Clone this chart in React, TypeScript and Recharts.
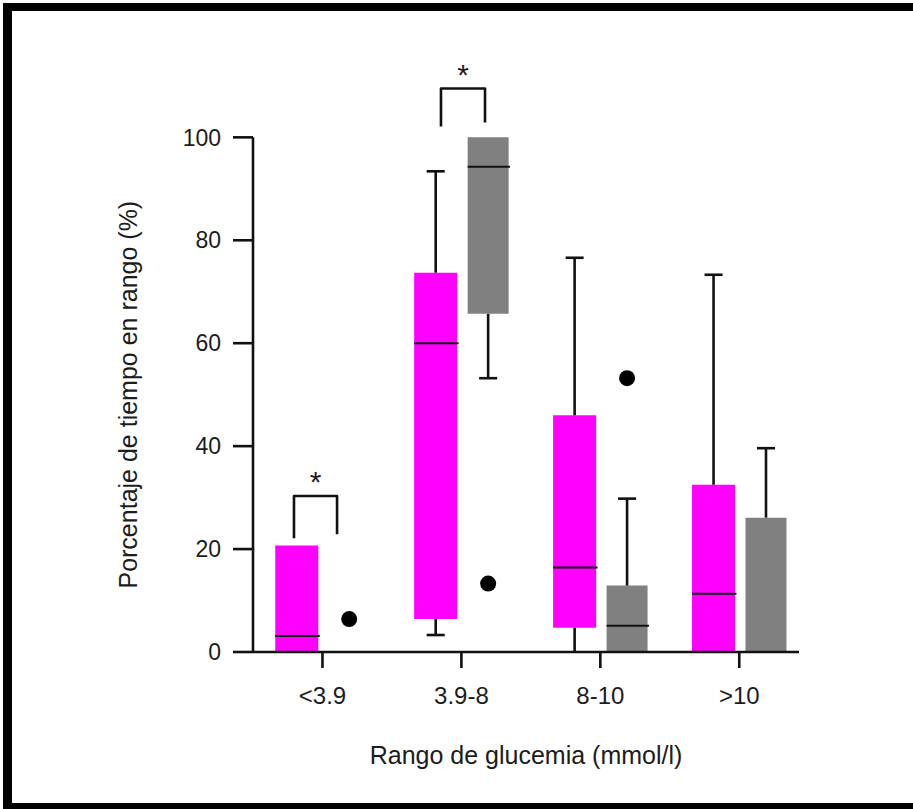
import {
  ComposedChart,
  ReferenceArea,
  ReferenceLine,
  Scatter,
  XAxis,
  YAxis,
} from "recharts";

const categories = ["<3.9", "3.9-8", "8-10", ">10"];

// magenta group (box stats, % of time)
const magMin = [0, 3.3, 0, 0];
const magQ1 = [0, 6.4, 4.7, 0];
const magMedian = [3.1, 60, 16.4, 11.3];
const magQ3 = [20.7, 73.7, 46, 32.5];
const magMax = [20.7, 93.4, 76.6, 73.3];

// gray group
const grayMin = [0, 53.2, 0, 0];
const grayQ1 = [0, 65.7, 0, 0];
const grayMedian = [0, 94.3, 5.1, 0];
const grayQ3 = [0, 100, 12.9, 26.1];
const grayMax = [0, 100, 29.8, 39.6];

// outliers (gray group)
const outlierCat = [0, 1, 2];
const outlierVal = [6.4, 13.3, 53.2];

// significance brackets
const sigCat = [0, 1];
const sigLegLeft = [22.1, 102.1];
const sigLegRight = [22.9, 102.9];
const sigTop = [30.3, 109.5];

const yTicks = [0, 20, 40, 60, 80, 100];

const FONT = '"Liberation Sans", Arial, sans-serif';
const TEXT = "#1c1c1c";
const MAGENTA = "#ff00ff";
const GRAY = "#808080";

// layout inside a category (data units on the x axis)
const boxes = [
  { left: 0.16, right: 0.47, fill: MAGENTA, min: magMin, q1: magQ1, med: magMedian, q3: magQ3, max: magMax },
  { left: 0.545, right: 0.84, fill: GRAY, min: grayMin, q1: grayQ1, med: grayMedian, q3: grayQ3, max: grayMax },
];
const CAP = 0.065;
const grayCenter = (boxes[1].left + boxes[1].right) / 2;
const bracketLeft = [0.295, 0.353];
const bracketRight = [0.605, 0.67];

const outliers = outlierCat.map((c, i) => ({ x: c + grayCenter, y: outlierVal[i] }));
const brackets = sigCat.map((c, i) => [
  { x: c + bracketLeft[i], y: sigLegLeft[i] },
  { x: c + bracketLeft[i], y: sigTop[i] },
  { x: c + bracketRight[i], y: sigTop[i] },
  { x: c + bracketRight[i], y: sigLegRight[i] },
]);
const stars = sigCat.map((c, i) => ({ x: c + (bracketLeft[i] + bracketRight[i]) / 2, y: sigTop[i] + 4 }));

const line = { stroke: "#111", strokeWidth: 2.6, ifOverflow: "visible" as const };

function BoxPlots() {
  const out: any[] = [];
  categories.forEach((_, c) => {
    boxes.forEach((b, k) => {
      const mid = c + (b.left + b.right) / 2;
      const key = `${c}-${k}`;
      if (b.max[c] > b.q3[c]) {
        out.push(<ReferenceLine key={`uw${key}`} segment={[{ x: mid, y: b.q3[c] }, { x: mid, y: b.max[c] }]} {...line} />);
        out.push(<ReferenceLine key={`uc${key}`} segment={[{ x: mid - CAP, y: b.max[c] }, { x: mid + CAP, y: b.max[c] }]} {...line} />);
      }
      if (b.q1[c] > b.min[c]) {
        out.push(<ReferenceLine key={`lw${key}`} segment={[{ x: mid, y: b.min[c] }, { x: mid, y: b.q1[c] }]} {...line} />);
        if (b.min[c] > 0) {
          out.push(<ReferenceLine key={`lc${key}`} segment={[{ x: mid - CAP, y: b.min[c] }, { x: mid + CAP, y: b.min[c] }]} {...line} />);
        }
      }
      out.push(
        <ReferenceArea
          key={`b${key}`}
          x1={c + b.left}
          x2={c + b.right}
          y1={b.q1[c]}
          y2={b.q3[c]}
          fill={b.fill}
          fillOpacity={1}
          stroke="none"
          ifOverflow="visible"
        />
      );
      out.push(
        <ReferenceLine
          key={`m${key}`}
          segment={[{ x: c + b.left, y: b.med[c] }, { x: c + b.right + 0.01, y: b.med[c] }]}
          stroke="#111"
          strokeWidth={2}
          ifOverflow="visible"
        />
      );
    });
  });
  return out;
}

export default function App() {
  return (
    <div
      style={{
        position: "absolute",
        left: 0,
        top: 0,
        width: 913,
        height: 809,
        background: "#fff",
        overflow: "hidden",
      }}
    >
      <div
        style={{
          position: "absolute",
          left: 3,
          top: 3,
          width: 910,
          height: 806,
          boxSizing: "border-box",
          borderLeft: "9px solid #000",
          borderTop: "8px solid #000",
          borderBottom: "6px solid #000",
        }}
      />
      <div style={{ position: "absolute", left: 0, top: 0 }}>
        <ComposedChart width={913} height={809} margin={{ top: 55, right: 114, bottom: 97, left: 123 }}>
          <XAxis
            dataKey="x"
            type="number"
            domain={[0, 3.93]}
            ticks={[0.5, 1.5, 2.5, 3.5]}
            tickFormatter={(v: number) => categories[Math.floor(v)]}
            height={60}
            tickSize={16}
            tickMargin={19}
            axisLine={{ stroke: "#111", strokeWidth: 2.6 }}
            tickLine={{ stroke: "#111", strokeWidth: 2.6 }}
            tick={{ fill: TEXT, fontSize: 24, fontFamily: FONT }}
            label={{
              content: ({ viewBox }: any) => (
                <text
                  x={viewBox.x + viewBox.width / 2}
                  y={viewBox.y + viewBox.height + 52}
                  textAnchor="middle"
                  fill={TEXT}
                  fontSize={25}
                  fontFamily={FONT}
                >
                  Rango de glucemia (mmol/l)
                </text>
              ),
            }}
          />
          <YAxis
            type="number"
            domain={[0, 116]}
            ticks={yTicks}
            width={130}
            tickSize={20}
            tickMargin={12}
            axisLine={false}
            tickLine={{ stroke: "#111", strokeWidth: 2.6 }}
            tick={{ fill: TEXT, fontSize: 23, fontFamily: FONT }}
            label={{
              content: ({ viewBox }: any) => {
                const x = viewBox.x + 14;
                const y = viewBox.y + viewBox.height * (1 - 50 / 116);
                return (
                  <text
                    x={x}
                    y={y}
                    transform={`rotate(-90 ${x} ${y})`}
                    textAnchor="middle"
                    fill={TEXT}
                    fontSize={25}
                    fontFamily={FONT}
                  >
                    Porcentaje de tiempo en rango (%)
                  </text>
                );
              },
            }}
          />
          <ReferenceLine segment={[{ x: 0, y: 0 }, { x: 0, y: 100 }]} {...line} />
          {BoxPlots()}
          <Scatter
            data={outliers}
            dataKey="y"
            isAnimationActive={false}
            shape={(p: any) => <circle cx={p.cx} cy={p.cy} r={8} fill="#000" />}
          />
          {brackets.map((pts, i) => (
            <Scatter
              key={`br${i}`}
              data={pts}
              dataKey="y"
              isAnimationActive={false}
              line={{ stroke: "#111", strokeWidth: 2.6, strokeLinejoin: "round" }}
              shape={() => <g />}
            />
          ))}
          <Scatter
            data={stars}
            dataKey="y"
            isAnimationActive={false}
            shape={(p: any) => (
              <text x={p.cx} y={p.cy + 17} textAnchor="middle" fill={TEXT} fontSize={30} fontFamily={FONT}>
                *
              </text>
            )}
          />
        </ComposedChart>
      </div>
    </div>
  );
}
